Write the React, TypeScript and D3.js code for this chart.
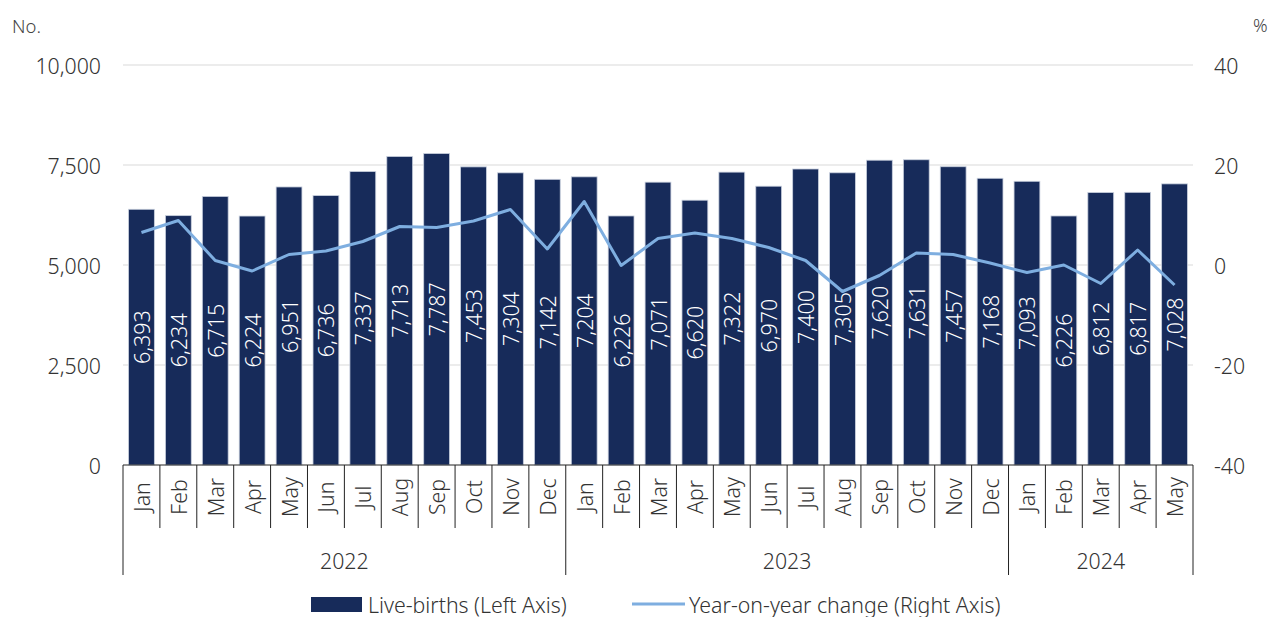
import React from "react";
import * as d3 from "d3";

const months = ["Jan","Feb","Mar","Apr","May","Jun","Jul","Aug","Sep","Oct","Nov","Dec","Jan","Feb","Mar","Apr","May","Jun","Jul","Aug","Sep","Oct","Nov","Dec","Jan","Feb","Mar","Apr","May"];
const years = [
  { label: "2022", count: 12 },
  { label: "2023", count: 12 },
  { label: "2024", count: 5 },
];
const liveBirths = [6393,6234,6715,6224,6951,6736,7337,7713,7787,7453,7304,7142,7204,6226,7071,6620,7322,6970,7400,7305,7620,7631,7457,7168,7093,6226,6812,6817,7028];
const yoyChange = [6.5,8.9,0.9,-1.2,2.1,2.8,4.7,7.7,7.5,8.8,11.1,3.2,12.7,-0.1,5.3,6.4,5.3,3.5,0.9,-5.3,-2.1,2.4,2.1,0.4,-1.5,0.0,-3.7,3.0,-4.0];
const leftTicks = [0, 2500, 5000, 7500, 10000];
const rightTicks = [-40, -20, 0, 20, 40];

const W = 1271, H = 617;
const X0 = 123, X1 = 1193, YT = 65, YB = 465;
const FONT = "'Noto Sans', 'Open Sans', sans-serif";
const BAR = "#172B5A";
const LINE = "#7EAEE0";
const TXT = "#333";
const FS = 21.3;

export default function App() {
  const idx = months.map((_, i) => i);
  const x = d3.scaleBand<number>().domain(idx).range([X0, X1]).paddingInner(0.3).paddingOuter(0.15);
  const step = (X1 - X0) / months.length;
  const yL = d3.scaleLinear().domain([0, 10000]).range([YB, YT]);
  const yR = d3.scaleLinear().domain([-40, 40]).range([YB, YT]);
  const cx = (i: number) => (x(i) as number) + x.bandwidth() / 2;
  const fmt = d3.format(",");
  const line = d3.line<number>().x((_, i) => cx(i)).y((d) => yR(d));

  let acc = 0;
  const yearGroups = years.map((y) => {
    const start = acc;
    acc += y.count;
    return { ...y, start, end: acc };
  });

  return (
    <svg width={W} height={H} style={{ position: "absolute", left: 0, top: 0, background: "#fff" }} fontFamily={FONT} fontWeight={300}>
      {leftTicks.filter((t) => t !== 0).map((t) => (
        <line key={t} x1={X0} x2={X1} y1={yL(t)} y2={yL(t)} stroke="#D9D9D9" strokeWidth={1} />
      ))}
      {liveBirths.map((v, i) => (
        <rect key={i} x={x(i)} y={yL(v)} width={x.bandwidth()} height={YB - yL(v)} fill={BAR} stroke="#C9D0DE" strokeWidth={0.8} />
      ))}
      {liveBirths.map((v, i) => {
        const yc = (yL(v) + YB) / 2;
        return (
          <text key={i} transform={`translate(${cx(i)},${yc}) rotate(-90)`} textAnchor="middle" dominantBaseline="central" fill="#fff" fontSize={21.5}>
            {fmt(v)}
          </text>
        );
      })}
      <path d={line(yoyChange) || ""} fill="none" stroke={LINE} strokeWidth={3} strokeLinejoin="round" />
      <line x1={X0} x2={X1} y1={YB} y2={YB} stroke="#222" strokeWidth={1} />
      {d3.range(months.length + 1).map((i) => {
        const xx = X0 + i * step;
        const isYear = yearGroups.some((g) => g.start === i || g.end === i);
        return <line key={i} x1={xx} x2={xx} y1={YB} y2={isYear ? 575 : 528} stroke="#222" strokeWidth={1} />;
      })}
      {months.map((m, i) => (
        <text key={i} transform={`translate(${X0 + (i + 0.5) * step},${497}) rotate(-90)`} textAnchor="middle" dominantBaseline="central" fontSize={FS} fill={TXT}>
          {m}
        </text>
      ))}
      {yearGroups.map((g) => (
        <text key={g.label} x={X0 + ((g.start + g.end) / 2) * step} y={560} textAnchor="middle" dominantBaseline="central" fontSize={FS} fill={TXT}>
          {g.label}
        </text>
      ))}
      {leftTicks.map((t) => (
        <text key={t} x={101} y={yL(t)} textAnchor="end" dominantBaseline="central" fontSize={FS} fill={TXT}>
          {fmt(t)}
        </text>
      ))}
      {rightTicks.map((t) => (
        <text key={t} x={1214} y={yR(t)} textAnchor="start" dominantBaseline="central" fontSize={FS} fill={TXT}>
          {t}
        </text>
      ))}
      <text x={12} y={25} dominantBaseline="central" fontSize={18.5} fill="#444">No.</text>
      <text x={1253} y={25} dominantBaseline="central" fontSize={18} fill="#444">%</text>
      <rect x={311} y={597} width={51} height={15} fill={BAR} />
      <text x={368} y={604} dominantBaseline="central" fontSize={FS} fill={TXT}>Live-births (Left Axis)</text>
      <line x1={632} x2={685} y1={604} y2={604} stroke={LINE} strokeWidth={3} />
      <text x={689} y={604} dominantBaseline="central" fontSize={FS} fill={TXT}>Year-on-year change (Right Axis)</text>
    </svg>
  );
}
